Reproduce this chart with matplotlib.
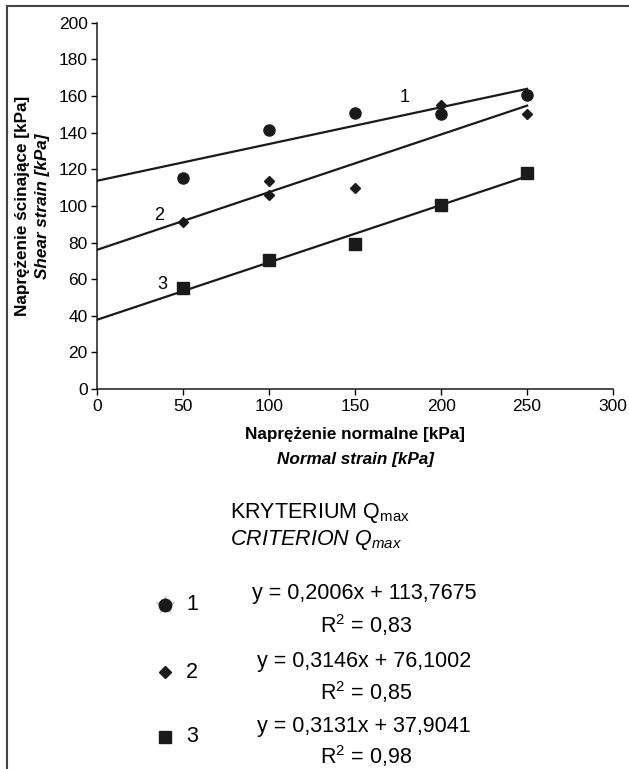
import matplotlib
matplotlib.use("Agg")
import matplotlib.pyplot as plt
from matplotlib import font_manager
from matplotlib.lines import Line2D
import numpy as np

x_vals = [50, 100, 150, 200, 250]
s1_y = [115.5, 141.4, 150.9, 150.0, 160.8]
s2_x = [50, 100, 100, 150, 200, 250]
s2_y = [91.2, 113.7, 106.1, 109.7, 155.0, 150.0]
s3_y = [55.3, 70.7, 79.4, 100.3, 118.2]

# regression coefficients (slope, intercept, R2)
fits = [(0.2006, 113.7675, 0.83), (0.3146, 76.1002, 0.85), (0.3131, 37.9041, 0.98)]
fit_labels = ["y = 0,2006x + 113,7675", "y = 0,3146x + 76,1002", "y = 0,3131x + 37,9041"]
r2_labels = ["R$^2$ = 0,83", "R$^2$ = 0,85", "R$^2$ = 0,98"]
series_names = ["1", "2", "3"]
x_ticks = [0, 50, 100, 150, 200, 250, 300]
y_ticks = list(range(0, 201, 20))

# pick a condensed font if installed
names = {f.name for f in font_manager.fontManager.ttflist}
FONT = "Liberation Sans Narrow" if "Liberation Sans Narrow" in names else "Liberation Sans"
k = 1.2 if FONT == "Liberation Sans Narrow" else 1.0

TICK_FS = 12.5 * k
LAB_FS = 12.3 * k
LEG_FS = 15.5 * k

plt.rcParams["font.family"] = [FONT, "DejaVu Sans"]
plt.rcParams["mathtext.fontset"] = "custom"
plt.rcParams["mathtext.rm"] = FONT
plt.rcParams["mathtext.it"] = FONT + ":italic"

fig = plt.figure(figsize=(6.29, 7.69), dpi=100)
ax = fig.add_axes([0.155, 0.4941, 0.8196, 0.4763])

# trend lines from x=0 to x=250
xl = np.array([0, 250])
for slope, icpt, _ in fits:
    ax.plot(xl, slope * xl + icpt, color="#1a1a1a", lw=1.6, zorder=2)

ax.plot(x_vals, s1_y, "o", color="#1a1a1a", ms=8, zorder=3)
ax.plot(s2_x, s2_y, "D", color="#1a1a1a", ms=5.5, zorder=3)
ax.plot(x_vals, s3_y, "s", color="#1a1a1a", ms=8, zorder=3)

# series labels next to the lines
ax.text(179, 159, "1", fontsize=13, ha="center", va="center")
ax.text(36, 95, "2", fontsize=13, ha="center", va="center")
ax.text(38, 57, "3", fontsize=13, ha="center", va="center")

ax.set_xlim(0, 300)
ax.set_ylim(0, 200)
ax.set_xticks(x_ticks)
ax.set_yticks(y_ticks)
ax.tick_params(labelsize=TICK_FS, length=4, width=1, pad=3, direction="out")
for side in ["top", "right"]:
    ax.spines[side].set_visible(False)
for side in ["left", "bottom"]:
    ax.spines[side].set_linewidth(1.1)
    ax.spines[side].set_color("#1a1a1a")

# axis titles (two lines each, second italic)
fig.text(0.5644, 0.4356, "Naprężenie normalne [kPa]", fontsize=LAB_FS, fontweight="bold",
         ha="center", va="center")
fig.text(0.5644, 0.403, "Normal strain [kPa]", fontsize=LAB_FS, fontweight="bold",
         style="italic", ha="center", va="center")
fig.text(0.035, 0.732, "Naprężenie ścinające [kPa]", fontsize=LAB_FS, fontweight="bold",
         rotation=90, ha="center", va="center")
fig.text(0.068, 0.732, "Shear strain [kPa]", fontsize=LAB_FS, fontweight="bold",
         style="italic", rotation=90, ha="center", va="center")

# legend block
fig.text(0.3657, 0.333, "KRYTERIUM Q$_{\\mathrm{max}}$", fontsize=LEG_FS, ha="left", va="center")
fig.text(0.3657, 0.298, "CRITERION Q$_{max}$", fontsize=LEG_FS, style="italic",
         ha="left", va="center")

marker_y = [0.2133, 0.126, 0.042]
eq_y = [0.228, 0.140, 0.055]
r2_y = [0.177, 0.090, 0.006]
markers = [("o", 9), ("D", 6), ("s", 8.5)]
for i in range(3):
    if i == 0:
        fig.add_artist(Line2D([0.262], [marker_y[i]], marker="*", ms=13, color="#c8c8c8",
                              lw=0, transform=fig.transFigure))
    m, ms = markers[i]
    fig.add_artist(Line2D([0.262], [marker_y[i]], marker=m, ms=ms, color="#1a1a1a",
                          lw=0, transform=fig.transFigure))
    fig.text(0.305, marker_y[i], series_names[i], fontsize=LEG_FS, ha="center", va="center")
    fig.text(0.579, eq_y[i], fit_labels[i], fontsize=LEG_FS, ha="center", va="center")
    fig.text(0.582, r2_y[i], r2_labels[i], fontsize=LEG_FS, ha="center", va="baseline")

# frame lines (left and top)
fig.add_artist(Line2D([0.0111, 0.0111], [0, 0.992], color="#444444", lw=1.5,
                      transform=fig.transFigure))
fig.add_artist(Line2D([0.0111, 1], [0.992, 0.992], color="#444444", lw=1.5,
                      transform=fig.transFigure))

fig.savefig("out.png", dpi=100, facecolor="white")
